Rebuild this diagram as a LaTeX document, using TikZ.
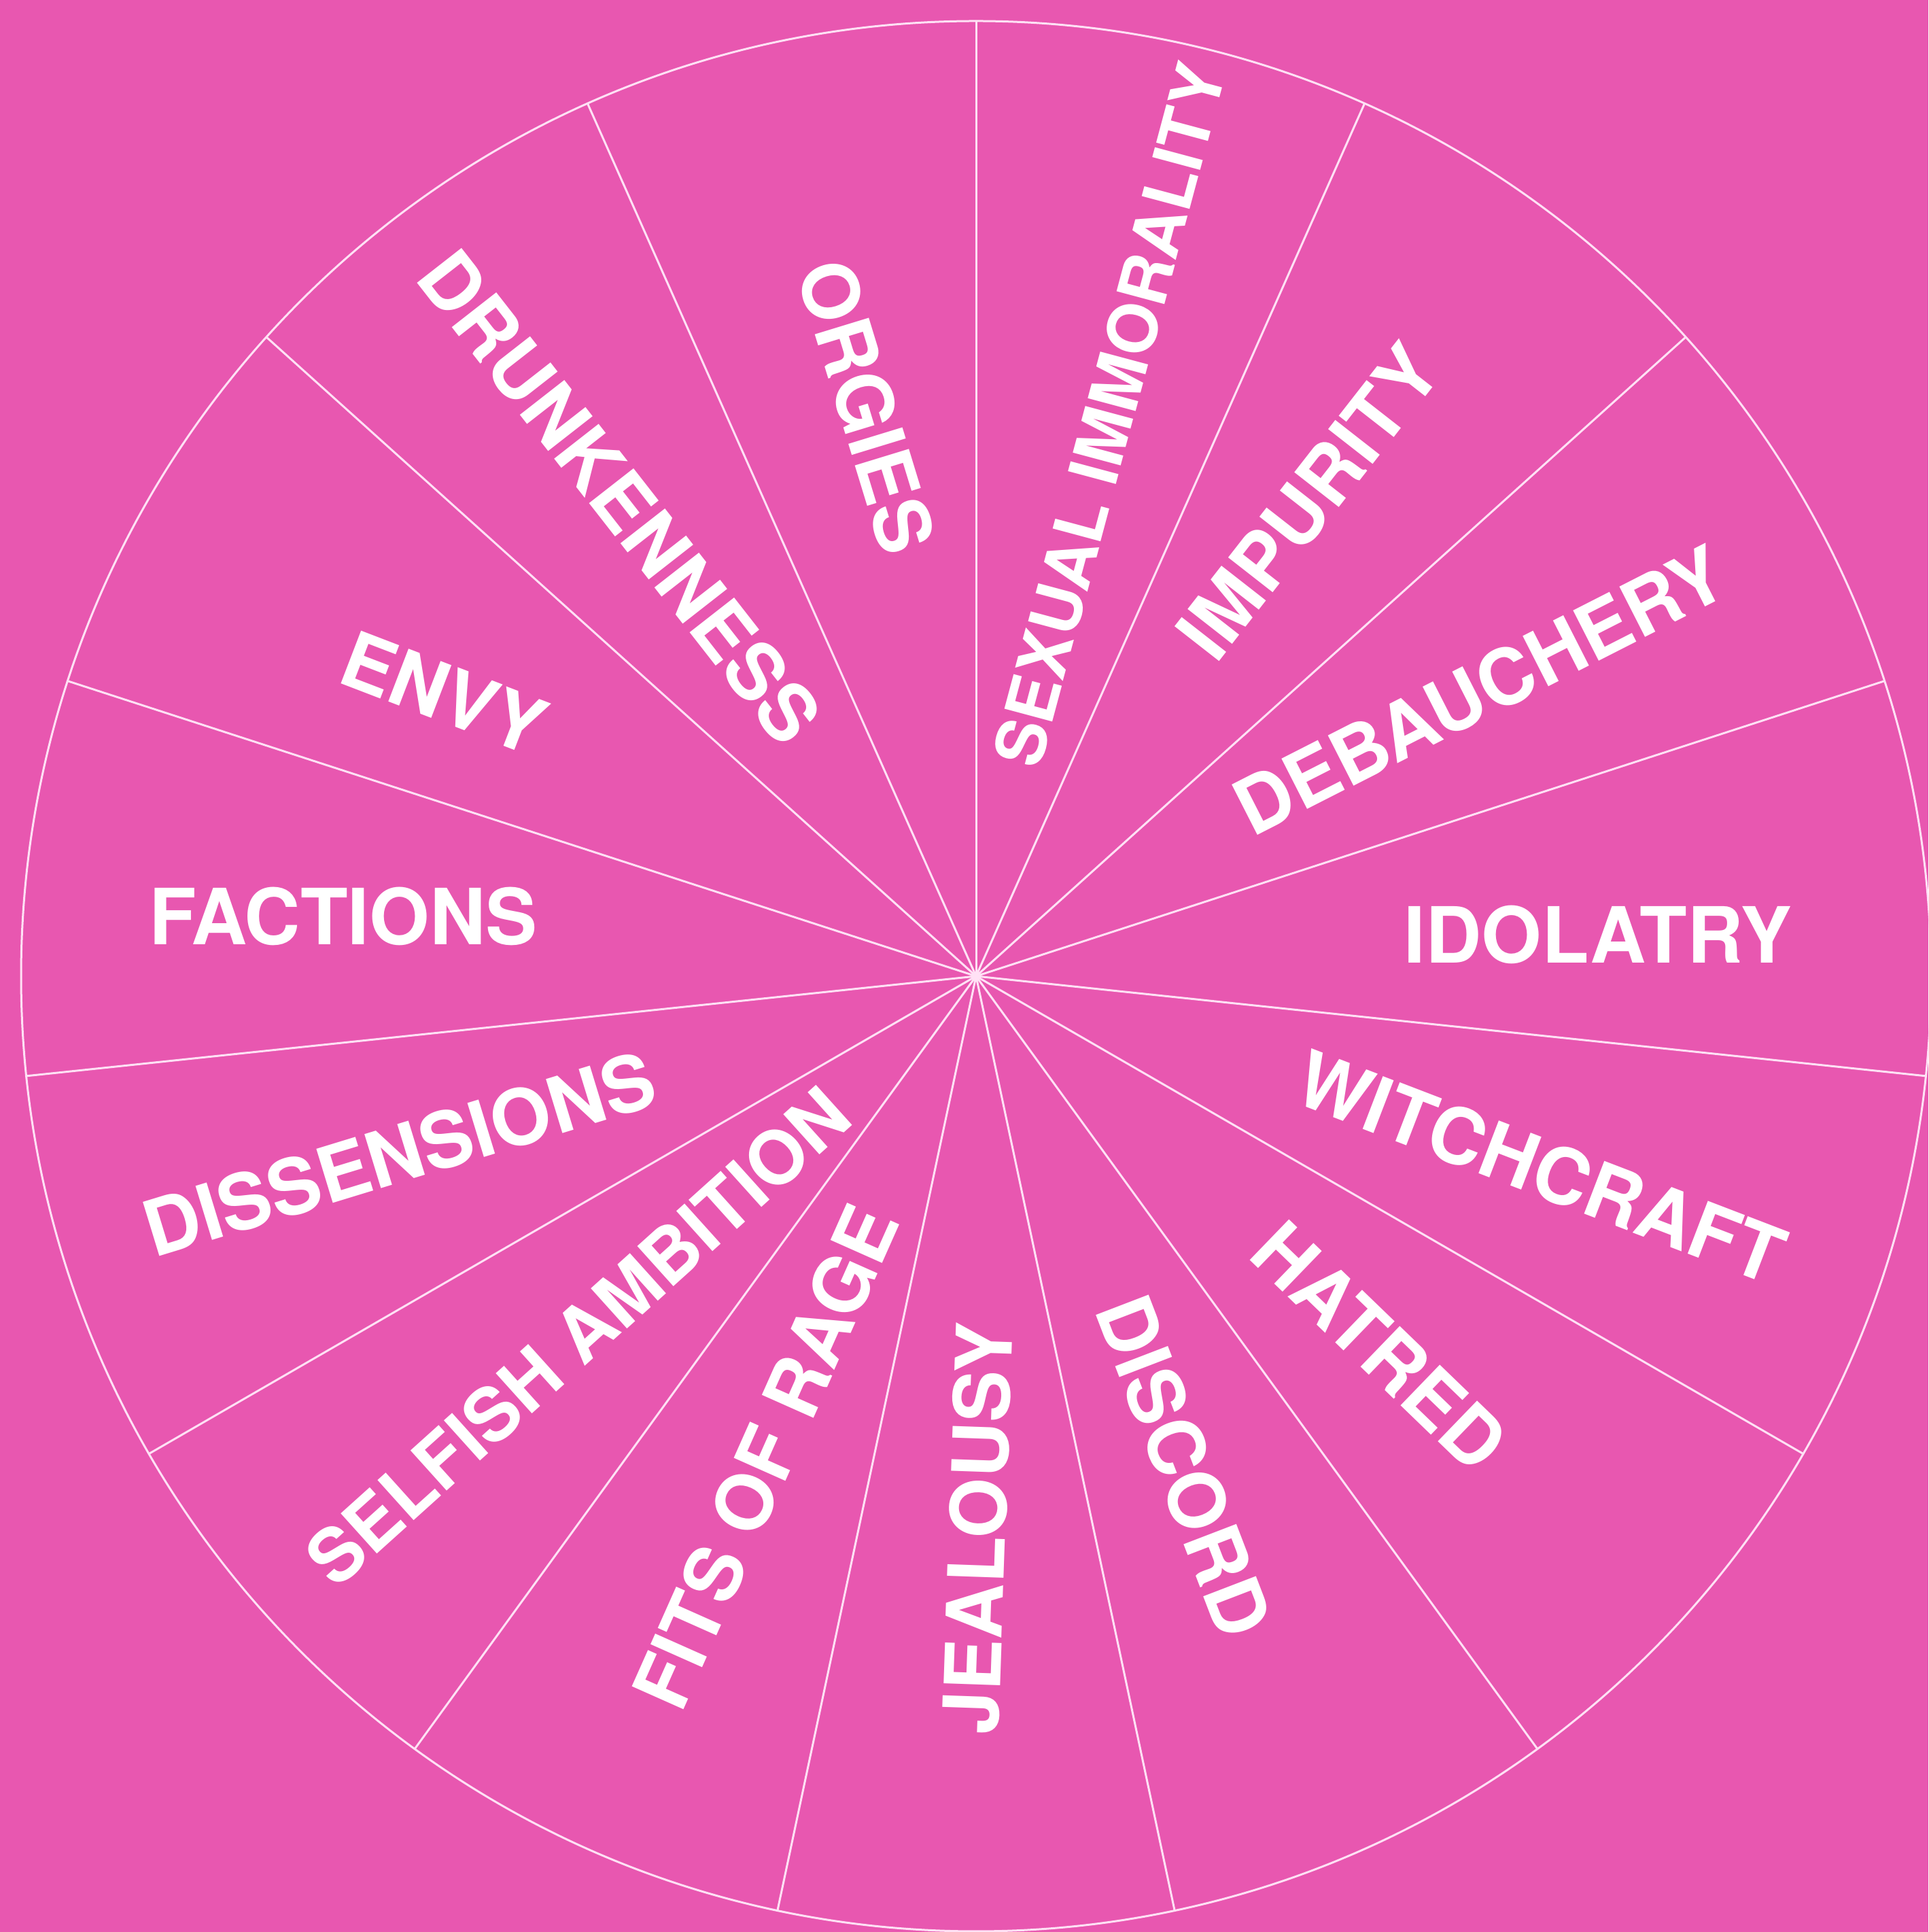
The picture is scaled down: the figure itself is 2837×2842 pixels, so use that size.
\documentclass[tikz,border=0pt]{standalone}
\usepackage{fontspec}
\usetikzlibrary{calc}
\newfontfamily\lblfont{TeX Gyre Heros}
\definecolor{bgpink}{RGB}{232,87,176}
\definecolor{spokecol}{RGB}{255,225,245}
\tikzset{
  spoke/.style={draw=spokecol, line width=3pt},
  lbl/.style={text=white, inner sep=0pt, font=\lblfont\bfseries\fontsize{114}{120}\selectfont},
  lblsmall/.style={lbl, font=\lblfont\bfseries\fontsize{100}{110}\selectfont},
  lblmid/.style={lbl, font=\lblfont\bfseries\fontsize{109}{115}\selectfont},
}
\begin{document}
\begin{tikzpicture}[x=1pt,y=1pt]
\fill[bgpink] (0,0) rectangle (2837,2842);
\useasboundingbox (0,0) rectangle (2837,2842);
\coordinate (O) at (1436,1406);
\draw[spoke] (O) circle (1405);
\foreach \a [count=\i] in {90,66,...,-246} {
  \coordinate (e\i) at ($(O)+(\a:1405)$);
  \draw[spoke] (O) -- (e\i);
}
\node[lblsmall, rotate=75] (l1) at (1632,2232) {SEXUAL IMMORALITY};
\node[lbl, rotate=52] (l2) at (1925,2104) {IMPURITY};
\node[lbl, rotate=27] (l3) at (2177,1827) {DEBAUCHERY};
\node[lbl, rotate=0] (l4) at (2351,1467) {IDOLATRY};
\node[lbl, rotate=-21] (l5) at (2267,1125) {WITCHCRAFT};
\node[lbl, rotate=-44] (l6) at (2030,862) {HATRED};
\node[lbl, rotate=-69] (l7) at (1742,685) {DISCORD};
\node[lbl, rotate=88] (l8) at (1438,594) {JEALOUSY};
\node[lbl, rotate=66] (l9) at (1126,699) {FITS OF RAGE};
\node[lblmid, rotate=42] (l10) at (850,876) {SELFISH AMBITION};
\node[lbl, rotate=17] (l11) at (587,1145) {DISSENSIONS};
\node[lbl, rotate=0] (l12) at (505,1494) {FACTIONS};
\node[lbl, rotate=-21] (l13) at (653,1823) {ENVY};
\node[lbl, rotate=-52] (l14) at (912,2111) {DRUNKENNESS};
\node[lbl, rotate=-73] (l15) at (1275,2244) {ORGIES};
\end{tikzpicture}
\end{document}
